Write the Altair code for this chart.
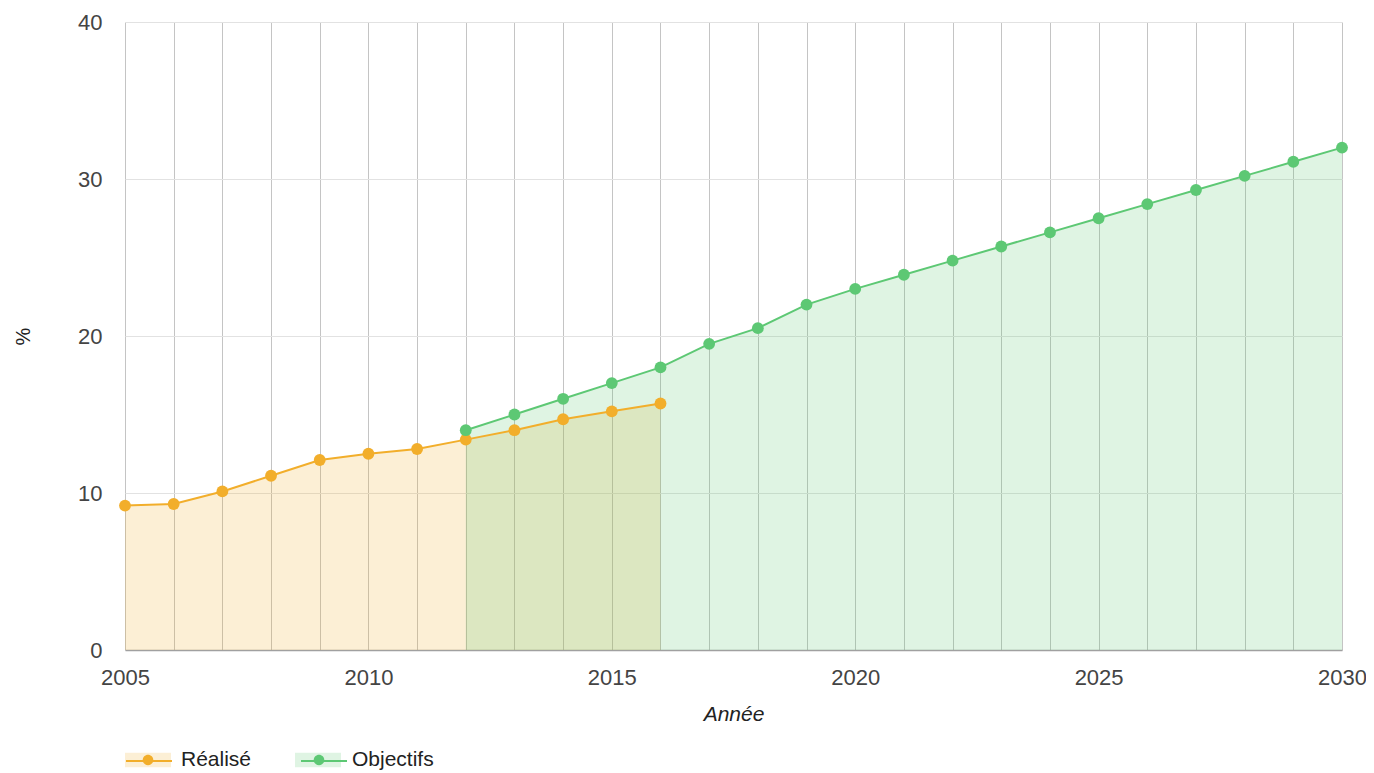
import altair as alt
import pandas as pd

years_real = list(range(2005, 2017))
vals_real = [9.2, 9.3, 10.1, 11.1, 12.1, 12.5, 12.8, 13.4, 14.0, 14.7, 15.2, 15.7]

years_obj = list(range(2012, 2031))
vals_obj = [14.0, 15.0, 16.0, 17.0, 18.0, 19.5, 20.5, 22.0, 23.0, 23.9, 24.8,
            25.7, 26.6, 27.5, 28.4, 29.3, 30.2, 31.1, 32.0]

series = ["Réalisé", "Objectifs"]
colors = ["#F2AE2B", "#5DC874"]
x_ticks = list(range(2005, 2031))
y_ticks = [0, 10, 20, 30, 40]

df = pd.concat([
    pd.DataFrame({"Année": years_real, "val": vals_real, "serie": series[0]}),
    pd.DataFrame({"Année": years_obj, "val": vals_obj, "serie": series[1]}),
])
# distinct (padded) copies so that Vega-Lite keeps three separate, overlaid legends
series_a = [s + " " for s in series]
series_l = [s + "  " for s in series]
df["serie_a"] = df["serie"] + " "
df["serie_l"] = df["serie"] + "  "

FONT = "Liberation Sans"
SYM = 2116
LX, LY = 0, 715
LEG_FS = 21
COL_PAD = 44
FIRST_LABEL_W = 3.334 * LEG_FS  # width of "Réalisé" in Liberation Sans

x = alt.X("Année:Q", title="Année",
          scale=alt.Scale(domain=[2005, 2030], nice=False, zero=False),
          axis=alt.Axis(values=x_ticks, format="d", tickSize=0,
                        labelExpr="datum.value % 5 == 0 ? datum.label : ''",
                        gridColor="#c4c4c4", domainColor="#a0a0a0", domainWidth=1.5,
                        labelPadding=17, titlePadding=15, titleFontStyle="italic",
                        labelFontSize=22, titleFontSize=21, labelFlush=False))
y = alt.Y("val:Q", title="%", stack=None,
          scale=alt.Scale(domain=[0, 40], nice=False),
          axis=alt.Axis(values=y_ticks, tickSize=0, domain=False,
                        gridColor="#e2e2e2", labelPadding=23, titlePadding=44,
                        labelFontSize=22, titleFontSize=20))

legend_common = dict(orient="none", legendX=LX, legendY=LY, direction="horizontal",
                     title=None, symbolSize=SYM, labelFontSize=LEG_FS, labelFont=FONT,
                     labelOffset=10, padding=0)
hidden_labels = dict(labelExpr="''", columnPadding=COL_PAD + FIRST_LABEL_W)

area = alt.Chart(df).mark_area(opacity=0.2).encode(
    x=x, y=y,
    fill=alt.Fill("serie_a:N", scale=alt.Scale(domain=series_a, range=colors),
                  legend=alt.Legend(symbolType="M-1,-0.32H1V0.32H-1Z",
                                    symbolOpacity=0.2, symbolStrokeWidth=0,
                                    **hidden_labels, **legend_common)),
)

line = alt.Chart(df).mark_line(strokeWidth=2).encode(
    x=x, y=y,
    stroke=alt.Stroke("serie_l:N", scale=alt.Scale(domain=series_l, range=colors),
                      legend=alt.Legend(symbolType="M-1,0H1", symbolStrokeWidth=2,
                                        **hidden_labels, **legend_common)),
)

points = alt.Chart(df).mark_point(filled=True, size=140, opacity=1).encode(
    x=x, y=y,
    color=alt.Color("serie:N", scale=alt.Scale(domain=series, range=colors),
                    legend=alt.Legend(
                        symbolType="M0.23,0A0.23,0.23,0,1,1,-0.23,0A0.23,0.23,0,1,1,0.23,0Z",
                        symbolStrokeWidth=0, labelColor="#222",
                        columnPadding=COL_PAD, **legend_common)),
)

chart = alt.layer(area, line, points).properties(
    width=1217, height=628,
    autosize=alt.AutoSizeParams(type="none"),
    padding={"left": 117, "top": 14, "right": 24, "bottom": 120},
).configure_axis(
    labelFont=FONT, titleFont=FONT,
    labelColor="#444", titleColor="#222", titleFontWeight="normal",
).configure_view(stroke=None)

chart.save("out.html", embed_options={"renderer": "svg", "actions": False})
